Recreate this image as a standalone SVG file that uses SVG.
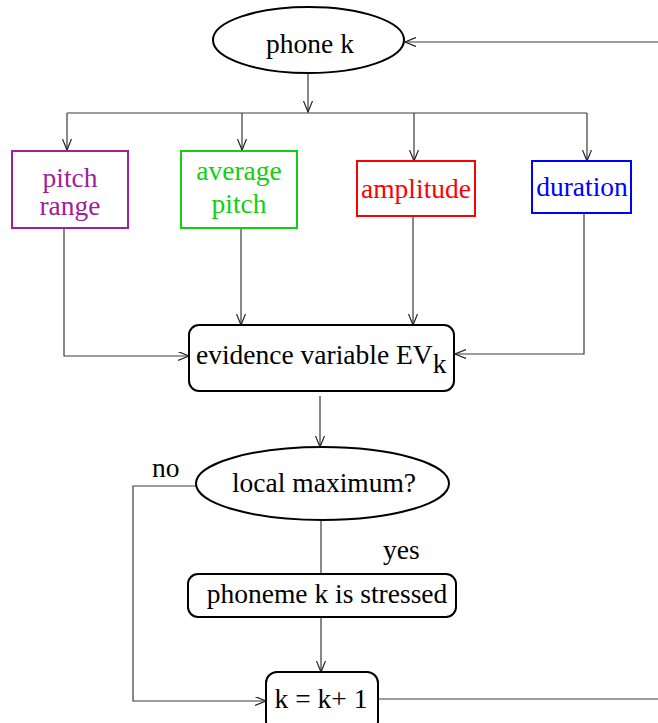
<svg xmlns="http://www.w3.org/2000/svg" width="658" height="723" viewBox="0 0 658 723">
<style>
text{font-family:"Liberation Serif","Times New Roman",serif;font-size:27.5px;fill:#000}
.node{fill:#fff;stroke:#000;stroke-width:2}
.c{fill:none;stroke:#3a3a3a;stroke-width:1.2}
.m{text-anchor:middle}
</style>
<defs>
<marker id="ah" markerWidth="12" markerHeight="10" refX="11" refY="4.5" orient="auto" markerUnits="userSpaceOnUse">
<path d="M0,0 L11,4.5 L0,9" fill="none" stroke="#222" stroke-width="1.2"/>
</marker>
</defs>
<rect width="658" height="723" fill="#fff"/>
<g id="connectors">
<path class="c" d="M658,42 H405" marker-end="url(#ah)"/>
<path class="c" d="M308,74 V112" marker-end="url(#ah)"/>
<path class="c" d="M67,113 H587"/>
<path class="c" d="M67,113 V150" marker-end="url(#ah)"/>
<path class="c" d="M242,113 V150" marker-end="url(#ah)"/>
<path class="c" d="M414,113 V161" marker-end="url(#ah)"/>
<path class="c" d="M587,113 V161" marker-end="url(#ah)"/>
<path class="c" d="M64,229 V356 H189" marker-end="url(#ah)"/>
<path class="c" d="M241,229 V325" marker-end="url(#ah)"/>
<path class="c" d="M413,217 V325" marker-end="url(#ah)"/>
<path class="c" d="M584,213 V354 H455" marker-end="url(#ah)"/>
<path class="c" d="M320,396 V447" marker-end="url(#ah)"/>
<path class="c" d="M196,486 H133 V701 H266" marker-end="url(#ah)"/>
<path class="c" d="M321,520 V574"/>
<path class="c" d="M321,617 V672" marker-end="url(#ah)"/>
<path class="c" d="M379,699 H658"/>
</g>
<g id="phone-k">
<ellipse class="node" cx="308.5" cy="40" rx="95.5" ry="33"/>
<text class="m" x="310" y="53">phone k</text>
</g>
<g id="pitch-range">
<rect x="12" y="151" width="116" height="77" fill="#fff" stroke="#a0209c" stroke-width="2"/>
<text class="m" x="70" y="187" style="fill:#a0209c">pitch</text>
<text class="m" x="70" y="215" style="fill:#a0209c">range</text>
</g>
<g id="average-pitch">
<rect x="181" y="151" width="116" height="77" fill="#fff" stroke="#10d010" stroke-width="2"/>
<text class="m" x="239" y="180" style="fill:#10d010">average</text>
<text class="m" x="239" y="213" style="fill:#10d010">pitch</text>
</g>
<g id="amplitude">
<rect x="357" y="161" width="118" height="55" fill="#fff" stroke="#ff0000" stroke-width="2"/>
<text class="m" x="416" y="198" style="fill:#ff0000">amplitude</text>
</g>
<g id="duration">
<rect x="532" y="161" width="99" height="52" fill="#fff" stroke="#0000ff" stroke-width="2"/>
<text class="m" x="582" y="196" style="fill:#0000ff">duration</text>
</g>
<g id="evidence">
<rect class="node" x="189" y="325" width="265" height="66" rx="10"/>
<text x="196" y="364">evidence variable EV<tspan dy="9">k</tspan></text>
</g>
<g id="local-maximum">
<ellipse class="node" cx="322.5" cy="483.5" rx="126.5" ry="36.5"/>
<text class="m" x="324" y="492">local maximum?</text>
</g>
<text x="152" y="477">no</text>
<text x="383" y="559">yes</text>
<g id="stressed">
<rect class="node" x="188" y="574" width="268" height="43" rx="10"/>
<text class="m" x="327" y="603">phoneme k is stressed</text>
</g>
<g id="increment">
<rect class="node" x="266" y="672" width="112" height="60" rx="11"/>
<text class="m" x="321" y="708">k = k+ 1</text>
</g>
</svg>
